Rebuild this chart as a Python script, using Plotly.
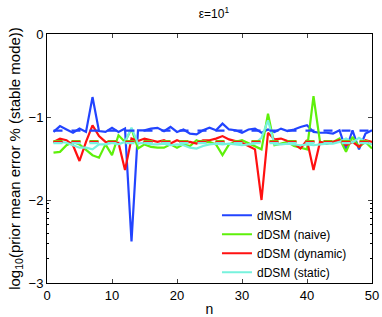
import plotly.graph_objects as go

n = list(range(1, 51))

dmsm = [-1.18, -1.11, -1.15, -1.19, -1.14, -1.18, -0.76, -1.17, -1.18, -1.13,
        -1.18, -1.14, -2.50, -1.16, -1.16, -1.14, -1.13, -1.17, -1.12, -1.18,
        -1.15, -1.20, -1.21, -1.16, -1.13, -1.16, -1.08, -1.15, -1.16, -1.19,
        -1.15, -1.14, -1.19, -1.15, -1.18, -1.14, -1.17, -1.15, -1.12, -1.10,
        -1.18, -1.19, -1.19, -1.20, -1.16, -1.40, -1.16, -1.39, -1.20, -1.16]

ddsm_naive = [-1.43, -1.42, -1.34, -1.30, -1.33, -1.40, -1.46, -1.49, -1.33, -1.46,
              -1.22, -1.30, -1.14, -1.38, -1.33, -1.36, -1.37, -1.37, -1.33, -1.37,
              -1.33, -1.35, -1.28, -1.31, -1.30, -1.33, -1.46, -1.33, -1.30, -1.28,
              -1.32, -1.35, -1.39, -0.96, -1.34, -1.32, -1.30, -1.35, -1.37, -1.39,
              -0.75, -1.30, -1.32, -1.30, -1.26, -1.42, -1.24, -1.36, -1.30, -1.38]

ddsm_dynamic = [-1.30, -1.26, -1.28, -1.34, -1.53, -1.30, -1.10, -1.23, -1.30, -1.31,
                -1.31, -1.64, -1.26, -1.29, -1.26, -1.28, -1.30, -1.28, -1.32, -1.28,
                -1.31, -1.30, -1.32, -1.28, -1.28, -1.26, -1.23, -1.27, -1.29, -1.31,
                -1.35, -1.39, -2.00, -1.19, -1.27, -1.26, -1.29, -1.32, -1.38, -1.28,
                -1.64, -1.30, -1.32, -1.30, -1.28, -1.34, -1.30, -1.36, -1.28, -1.30]

ddsm_static = [-1.31, -1.30, -1.31, -1.34, -1.37, -1.37, -1.39, -1.33, -1.33, -1.31,
               -1.33, -1.30, -1.13, -1.32, -1.31, -1.33, -1.33, -1.32, -1.34, -1.33,
               -1.34, -1.37, -1.38, -1.35, -1.33, -1.32, -1.33, -1.32, -1.33, -1.34,
               -1.33, -1.32, -1.25, -1.04, -1.33, -1.33, -1.32, -1.33, -1.34, -1.33,
               -1.34, -1.33, -1.32, -1.32, -1.30, -1.26, -1.31, -1.25, -1.30, -1.33]

ref_levels = {"dMSM": -1.165, "dDSM (naive)": -1.29, "dDSM (dynamic)": -1.30, "dDSM (static)": -1.315}

series_names = ["dMSM", "dDSM (naive)", "dDSM (dynamic)", "dDSM (static)"]
series_values = [dmsm, ddsm_naive, ddsm_dynamic, ddsm_static]
colors = ["#2244ff", "#5ef00a", "#ff1111", "#77f2dd"]

x_ticks = [0, 10, 20, 30, 40, 50]
y_ticks = [-3, -2, -1, 0]
y_tick_labels = ["\u22123", "\u22122", "\u22121", "0"]
minor_y = [-3 + 0.30103, -3 + 0.47712, -3 + 0.60206, -3 + 0.69897,
           -3 + 0.77815, -3 + 0.84510, -3 + 0.90309, -3 + 0.95424]

fig = go.Figure()
for name, vals, c in zip(series_names, series_values, colors):
    fig.add_trace(go.Scatter(x=n, y=vals, mode="lines", name=name,
                             line=dict(color=c, width=2.2)))
for name, c in zip(series_names, colors):
    fig.add_trace(go.Scatter(x=n, y=[ref_levels[name]] * len(n), mode="lines",
                             showlegend=False,
                             line=dict(color=c, width=2.2, dash="dash")))

font = "Liberation Sans, Arial, sans-serif"
fig.update_layout(
    width=382, height=317,
    margin=dict(l=47, r=10, t=34, b=34, autoexpand=False),
    paper_bgcolor="white", plot_bgcolor="white",
    font=dict(family=font, size=13, color="black"),
    title=dict(text="\u03b5=10<sup>1</sup>", x=0.56, xanchor="center",
               y=0.955, yanchor="middle", font=dict(size=12)),
    showlegend=True,
    legend=dict(x=0.523, y=-0.015, xanchor="left", yanchor="bottom",
                bgcolor="rgba(0,0,0,0)", borderwidth=0,
                font=dict(size=12), tracegroupgap=0, itemwidth=30),
)
fig.update_xaxes(range=[0, 50], tickvals=x_ticks, ticks="inside", ticklen=4,
                 showline=True, linecolor="black", linewidth=1, mirror="ticks",
                 showgrid=False, zeroline=False,
                 title=dict(text="n", standoff=2, font=dict(size=14)),
                 tickfont=dict(size=13))
fig.update_yaxes(range=[-3, 0], tickvals=y_ticks, ticktext=y_tick_labels,
                 ticks="inside", ticklen=4,
                 showline=True, linecolor="black", linewidth=1, mirror="ticks",
                 showgrid=False, zeroline=False,
                 minor=dict(tickvals=minor_y, ticks="inside", ticklen=2,
                            tickcolor="black", showgrid=False),
                 title=dict(text="log<sub>10</sub>(prior mean error % (stable mode))",
                            standoff=4, font=dict(size=15)),
                 tickfont=dict(size=13))

fig.write_html("out.html", config={"displayModeBar": False},
               post_script="document.body.style.margin='0px';document.body.style.overflow='hidden';")
